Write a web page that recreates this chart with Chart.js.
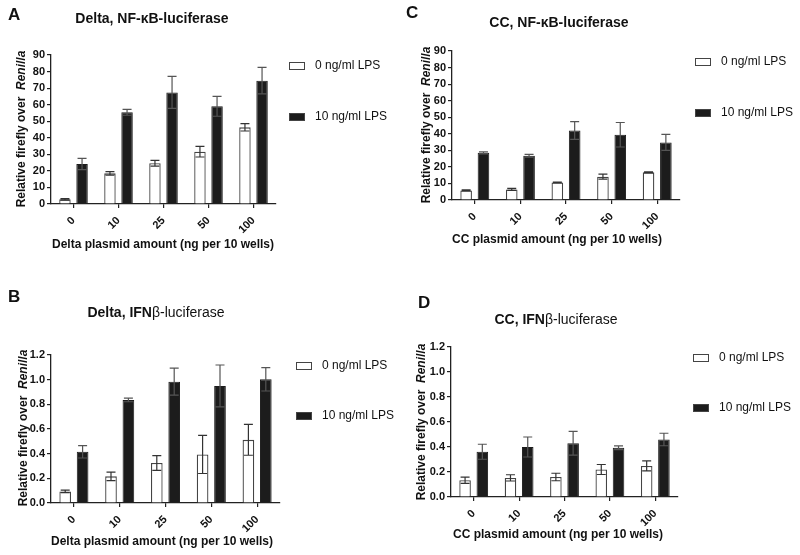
<!DOCTYPE html>
<html>
<head>
<meta charset="utf-8">
<script src="https://cdn.jsdelivr.net/npm/chart.js@4/dist/chart.umd.min.js"></script>
<style>
  body { margin: 0; background: #fff; }
  #wrap { position: relative; width: 800px; height: 555px; }
  canvas { position: absolute; }
</style>
</head>
<body>
<div id="wrap">
  <canvas id="panelA" width="400" height="270" style="left:0;top:0"></canvas>
  <canvas id="panelC" width="400" height="270" style="left:400px;top:0"></canvas>
  <canvas id="panelB" width="400" height="285" style="left:0;top:270px"></canvas>
  <canvas id="panelD" width="400" height="285" style="left:400px;top:270px"></canvas>
</div>
<script>
// plasmid amounts (ng per 10 wells)
const doses = ['0', '10', '25', '50', '100'];
const legendLabels = ['0 ng/ml LPS', '10 ng/ml LPS'];

// A: Delta, NF-kB-luciferase
const deltaNfkbNoLps = [2.8, 18.5, 24.6, 31.6, 46.3];
const deltaNfkbNoLpsErr = [0.5, 1.0, 1.7, 3.2, 2.2];
const deltaNfkbLps = [24.2, 55.4, 67.4, 59.0, 74.5];
const deltaNfkbLpsErr = [3.4, 1.8, 9.7, 6.0, 8.0];

// C: CC, NF-kB-luciferase
const ccNfkbNoLps = [5.8, 6.4, 10.6, 14.1, 16.7];
const ccNfkbNoLpsErr = [0.3, 0.6, 0.2, 1.5, 0.3];
const ccNfkbLps = [28.5, 26.7, 42.0, 39.4, 34.8];
const ccNfkbLpsErr = [0.6, 0.8, 5.4, 7.4, 4.8];

// B: Delta, IFNb-luciferase
const deltaIfnNoLps = [0.094, 0.216, 0.324, 0.394, 0.512];
const deltaIfnNoLpsErr = [0.01, 0.035, 0.06, 0.155, 0.125];
const deltaIfnLps = [0.415, 0.836, 0.984, 0.949, 1.003];
const deltaIfnLpsErr = [0.05, 0.015, 0.11, 0.17, 0.095];

// D: CC, IFNb-luciferase
const ccIfnNoLps = [0.134, 0.153, 0.16, 0.22, 0.249];
const ccIfnNoLpsErr = [0.025, 0.025, 0.03, 0.04, 0.04];
const ccIfnLps = [0.362, 0.4, 0.43, 0.394, 0.46];
const ccIfnLpsErr = [0.06, 0.08, 0.095, 0.015, 0.05];

// y axis ranges
const nfkbMax = 90, nfkbStep = 10;
const ifnMax = 1.2, ifnStep = 0.2;

const FONT = '"Liberation Sans", Arial, Helvetica, sans-serif';
Chart.defaults.font.family = FONT;
Chart.defaults.color = '#111';

// draws pieces of text with different fonts on one line, centred on x
function drawRuns(ctx, runs, x, y) {
  let total = 0;
  runs.forEach(r => { ctx.font = r.f; total += ctx.measureText(r.t).width; });
  let cx = x - total / 2;
  ctx.textAlign = 'left';
  ctx.textBaseline = 'middle';
  runs.forEach(r => {
    ctx.font = r.f;
    ctx.fillText(r.t, cx, y);
    cx += ctx.measureText(r.t).width;
  });
}

const errorBars = {
  id: 'errorBars',
  afterDatasetsDraw(chart) {
    const ctx = chart.ctx;
    const y = chart.scales.y;
    chart.data.datasets.forEach((ds, i) => {
      const meta = chart.getDatasetMeta(i);
      meta.data.forEach((bar, j) => {
        const v = ds.data[j], e = ds.err[j];
        const top = y.getPixelForValue(v + e);
        const bot = y.getPixelForValue(v - e);
        ctx.save();
        ctx.strokeStyle = i === 0 ? '#333' : '#555';
        ctx.lineWidth = 1.2;
        ctx.beginPath();
        ctx.moveTo(bar.x, top); ctx.lineTo(bar.x, bot);
        ctx.moveTo(bar.x - 4.5, top); ctx.lineTo(bar.x + 4.5, top);
        ctx.moveTo(bar.x - 4.5, bot); ctx.lineTo(bar.x + 4.5, bot);
        ctx.stroke();
        ctx.restore();
      });
    });
  }
};

const annotations = {
  id: 'annotations',
  afterDraw(chart) {
    const p = chart.options.plugins.annotations;
    const ctx = chart.ctx;
    ctx.save();
    ctx.fillStyle = '#111';
    // panel letter
    ctx.font = 'bold 17px ' + FONT;
    ctx.textAlign = 'left';
    ctx.textBaseline = 'middle';
    ctx.fillText(p.letter, p.letterX, p.letterY);
    // title
    drawRuns(ctx, p.title, p.titleX, p.titleY);
    // y title
    ctx.save();
    ctx.translate(p.yTitleX, p.yTitleY);
    ctx.rotate(-Math.PI / 2);
    drawRuns(ctx, [
      { t: 'Relative firefly over  ', f: 'bold 12px ' + FONT },
      { t: 'Renilla', f: 'italic bold 12px ' + FONT }
    ], 0, 0);
    ctx.restore();
    // x title
    drawRuns(ctx, [{ t: p.xTitle, f: 'bold 12px ' + FONT }], p.xTitleX, p.xTitleY);
    // legend
    chart.data.datasets.forEach((ds, i) => {
      const ly = p.legendY[i];
      ctx.fillStyle = ds.backgroundColor;
      ctx.fillRect(p.legendX, ly - 4, 16, 8);
      ctx.strokeStyle = '#444';
      ctx.lineWidth = 1;
      ctx.strokeRect(p.legendX + 0.5, ly - 3.5, 15, 7);
      ctx.fillStyle = '#111';
      ctx.font = '12px ' + FONT;
      ctx.textAlign = 'left';
      ctx.textBaseline = 'middle';
      ctx.fillText(legendLabels[i], p.legendX + 26, ly);
    });
    ctx.restore();
  }
};

function makePanel(id, noLps, noLpsErr, lps, lpsErr, yMax, yStep, box, notes) {
  const canvas = document.getElementById(id);
  const W = canvas.width, H = canvas.height;
  const tickFont = { weight: 'bold', size: 11 };
  const axisGrid = { display: true, drawOnChartArea: false, drawTicks: true, tickLength: 4, color: '#222', lineWidth: 1.2 };
  new Chart(canvas.getContext('2d'), {
    type: 'bar',
    data: {
      labels: doses,
      datasets: [
        { label: legendLabels[0], data: noLps, err: noLpsErr, backgroundColor: '#ffffff', borderColor: '#444', borderWidth: 1.3 },
        { label: legendLabels[1], data: lps, err: lpsErr, backgroundColor: '#1c1c1c', borderColor: '#1c1c1c', borderWidth: 1 }
      ]
    },
    options: {
      responsive: false,
      animation: false,
      categoryPercentage: 0.76,
      barPercentage: 0.67,
      layout: { padding: { left: 0, top: box.top, right: W - box.right, bottom: 0 } },
      plugins: {
        legend: { display: false },
        title: { display: false },
        tooltip: { enabled: false },
        annotations: notes
      },
      scales: {
        x: {
          offset: true,
          grid: Object.assign({ offset: false }, axisGrid),
          border: { display: true, color: '#222', width: 1.3 },
          ticks: { font: tickFont, color: '#111', minRotation: 45, maxRotation: 45, padding: 6 },
          afterFit: s => { s.height = H - box.bottom; }
        },
        y: {
          min: 0,
          max: yMax,
          grid: axisGrid,
          border: { display: true, color: '#222', width: 1.3 },
          ticks: {
            stepSize: yStep,
            font: tickFont,
            color: '#111',
            padding: 2,
            callback: v => yStep < 1 ? v.toFixed(1) : v
          },
          afterFit: s => { s.width = box.left; }
        }
      }
    },
    plugins: [errorBars, annotations]
  });
}

const nfTitle = name => [{ t: name + ', NF-\u03BAB-luciferase', f: 'bold 14px ' + FONT }];
const ifnTitle = name => [
  { t: name + ', IFN', f: 'bold 14px ' + FONT },
  { t: '\u03B2-luciferase', f: '14px ' + FONT }
];

makePanel('panelA', deltaNfkbNoLps, deltaNfkbNoLpsErr, deltaNfkbLps, deltaNfkbLpsErr, nfkbMax, nfkbStep,
  { left: 51, right: 276, top: 55, bottom: 204 },
  { letter: 'A', letterX: 8, letterY: 15, title: nfTitle('Delta'), titleX: 152, titleY: 19,
    yTitleX: 22, yTitleY: 129, xTitle: 'Delta plasmid amount (ng per 10 wells)', xTitleX: 163, xTitleY: 245,
    legendX: 289, legendY: [66, 117] });

makePanel('panelC', ccNfkbNoLps, ccNfkbNoLpsErr, ccNfkbLps, ccNfkbLpsErr, nfkbMax, nfkbStep,
  { left: 52, right: 280, top: 51, bottom: 200 },
  { letter: 'C', letterX: 6, letterY: 13, title: nfTitle('CC'), titleX: 159, titleY: 23,
    yTitleX: 27, yTitleY: 125, xTitle: 'CC plasmid amount (ng per 10 wells)', xTitleX: 157, xTitleY: 240,
    legendX: 295, legendY: [62, 113] });

makePanel('panelB', deltaIfnNoLps, deltaIfnNoLpsErr, deltaIfnLps, deltaIfnLpsErr, ifnMax, ifnStep,
  { left: 51, right: 280, top: 85, bottom: 233 },
  { letter: 'B', letterX: 8, letterY: 27, title: ifnTitle('Delta'), titleX: 156, titleY: 43,
    yTitleX: 24, yTitleY: 158, xTitle: 'Delta plasmid amount (ng per 10 wells)', xTitleX: 162, xTitleY: 272,
    legendX: 296, legendY: [96, 146] });

makePanel('panelD', ccIfnNoLps, ccIfnNoLpsErr, ccIfnLps, ccIfnLpsErr, ifnMax, ifnStep,
  { left: 51, right: 278, top: 77, bottom: 227 },
  { letter: 'D', letterX: 18, letterY: 33, title: ifnTitle('CC'), titleX: 156, titleY: 50,
    yTitleX: 22, yTitleY: 152, xTitle: 'CC plasmid amount (ng per 10 wells)', xTitleX: 158, xTitleY: 265,
    legendX: 293, legendY: [88, 138] });
</script>
</body>
</html>
